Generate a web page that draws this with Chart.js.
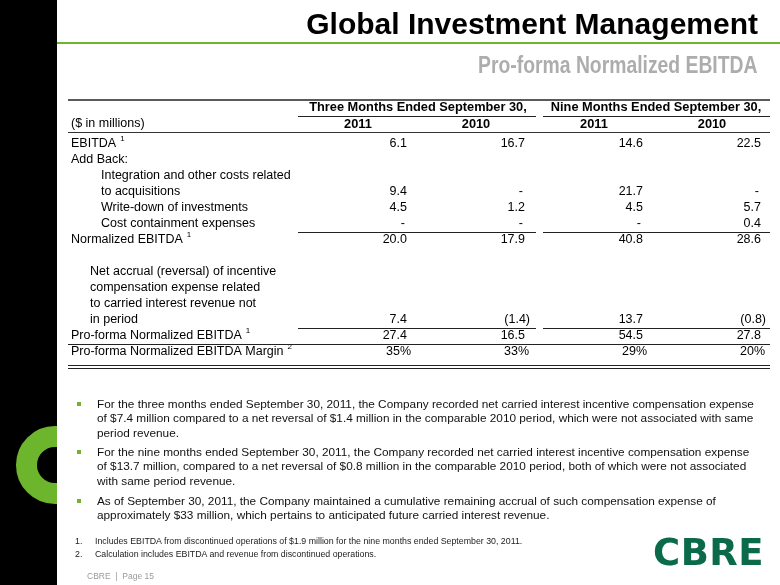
<!DOCTYPE html>
<html>
<head>
<meta charset="utf-8">
<title>Global Investment Management</title>
<script src="https://cdn.jsdelivr.net/npm/chart.js@4.4.1/dist/chart.umd.min.js"></script>
<style>
  body { margin: 0; width: 780px; height: 585px; position: relative; overflow: hidden; background: #fff;
         font-family: "Liberation Sans", Arial, sans-serif; color: #000; }
  #wrap { position: absolute; left: 0; top: 0; width: 780px; height: 585px; }
  #strip { position: absolute; left: 0; top: 0; width: 57px; height: 585px; background: #000; overflow: hidden; }
  #ring { position: absolute; left: 16px; top: 426px; width: 36px; height: 36px; border: 21px solid #6cb52d; border-radius: 50%; }
  #rule { position: absolute; left: 57px; right: 0; top: 42px; height: 2px; background: #6cb52d; }
  #title { position: absolute; right: 22px; top: 9px; font-weight: bold; font-size: 30px; line-height: 30px; white-space: nowrap; }
  #subtitle { position: absolute; right: 23px; top: 53px; font-weight: bold; font-size: 23.5px; line-height: 24px; color: #adadad;
              white-space: nowrap; transform: scaleX(0.823); transform-origin: right center; }
  .bullet { position: absolute; left: 97px; font-size: 11.8px; line-height: 14.3px; white-space: nowrap; color: #111; }
  .sq { position: absolute; left: 77px; width: 4px; height: 4px; background: #6cb52d; }
  .note { position: absolute; left: 75px; font-size: 8.8px; line-height: 13px; white-space: nowrap; color: #222; }
  .note span { position: absolute; left: 20px; }
  #footer { position: absolute; left: 87px; top: 571px; font-size: 8.5px; line-height: 11px; color: #9a9a9a; white-space: nowrap; }
  #logo { position: absolute; left: 653px; top: 534px; font-family: "DejaVu Sans", sans-serif; font-weight: bold; font-size: 37px;
          line-height: 37px; letter-spacing: 0.5px; color: #0b6a4a; }
</style>
</head>
<body>
<div id="wrap"><canvas id="tableChart"></canvas></div>
<div id="strip"><div id="ring"></div></div>
<div id="rule"></div>
<div id="title">Global Investment Management</div>
<div id="subtitle">Pro-forma Normalized EBITDA</div>

<div class="sq" style="top:402px"></div>
<div class="bullet" style="top:397px">For the three months ended September 30, 2011, the Company recorded net carried interest incentive compensation expense<br>of $7.4 million compared to a net reversal of $1.4 million in the comparable 2010 period, which were not associated with same<br>period revenue.</div>
<div class="sq" style="top:450px"></div>
<div class="bullet" style="top:445px">For the nine months ended September 30, 2011, the Company recorded net carried interest incentive compensation expense<br>of $13.7 million, compared to a net reversal of $0.8 million in the comparable 2010 period, both of which were not associated<br>with same period revenue.</div>
<div class="sq" style="top:499px"></div>
<div class="bullet" style="top:494px">As of September 30, 2011, the Company maintained a cumulative remaining accrual of such compensation expense of<br>approximately $33 million, which pertains to anticipated future carried interest revenue.</div>

<div class="note" style="top:535px">1.<span>Includes EBITDA from discontinued operations of $1.9 million for the nine months ended September 30, 2011.</span></div>
<div class="note" style="top:548px">2.<span>Calculation includes EBITDA and revenue from discontinued operations.</span></div>
<div id="footer">CBRE&nbsp;&nbsp;|&nbsp;&nbsp;Page 15</div>
<div id="logo">CBRE</div>

<script>
// Table data
const columnGroups = ['Three Months Ended September 30,', 'Nine Months Ended September 30,'];
const columnYears = ['2011', '2010', '2011', '2010'];
const unitsLabel = '($ in millions)';
const rowLabels = [
  ['EBITDA'],
  ['Add Back:'],
  ['Integration and other costs related', 'to acquisitions'],
  ['Write-down of investments'],
  ['Cost containment expenses'],
  ['Normalized EBITDA'],
  ['', 'Net accrual (reversal) of incentive', 'compensation expense related', 'to carried interest revenue not', 'in period'],
  ['Pro-forma Normalized EBITDA'],
  ['Pro-forma Normalized EBITDA Margin']
];
const rowNotes = ['1', '', '', '', '', '1', '', '1', '2'];
const q3_2011 = [6.1, null, 9.4, 4.5, 0, 20.0, 7.4, 27.4, 35];
const q3_2010 = [16.7, null, 0, 1.2, 0, 17.9, -1.4, 16.5, 33];
const nine_2011 = [14.6, null, 21.7, 4.5, 0, 40.8, 13.7, 54.5, 29];
const nine_2010 = [22.5, null, 0, 5.7, 0.4, 28.6, -0.8, 27.8, 20];
const percentRow = 8;

const columns = [q3_2011, q3_2010, nine_2011, nine_2010];
const columnKeys = ['q3_2011', 'q3_2010', 'nine_2011', 'nine_2010'];

// every printed line of the label column is one category on the y axis
const lineKeys = [];
const rowLastLine = [];
rowLabels.forEach((lines, r) => {
  lines.forEach((_, l) => lineKeys.push(r + ':' + l));
  rowLastLine.push(r + ':' + (lines.length - 1));
});

const indents = { 2: 30, 3: 30, 4: 30, 6: 19 };
const FONT = '"Liberation Sans", Arial, sans-serif';

function fmt(v, r) {
  if (r === percentRow) return { t: v + '%', hang: 4 };
  if (v === 0) return { t: '-', hang: -2 };
  if (v < 0) return { t: '(' + Math.abs(v).toFixed(1) + ')', hang: 5 };
  return { t: v.toFixed(1), hang: 0 };
}

const tablePlugin = {
  id: 'tableText',
  afterDraw(chart) {
    const { ctx, scales: { x, y } } = chart;
    const left = 68, right = 770;
    const xs = columnKeys.map((_, i) => x.getPixelForValue(i));
    const y0 = y.getPixelForValue(0);
    const lineY = i => y.getPixelForValue(i);
    const g1 = [xs[0] - 60, xs[1] + 60], g2 = [xs[2] - 51, right];

    function hline(x1, x2, yy, w, color) {
      ctx.beginPath();
      ctx.lineWidth = w;
      ctx.strokeStyle = color;
      ctx.moveTo(x1, yy);
      ctx.lineTo(x2, yy);
      ctx.stroke();
    }

    ctx.save();
    ctx.fillStyle = '#000';
    ctx.textBaseline = 'middle';

    // header
    hline(left, right, y0 - 44, 2, '#5a5a5a');
    ctx.font = 'bold 12.8px ' + FONT;
    ctx.textAlign = 'center';
    ctx.fillText(columnGroups[0], (xs[0] + xs[1]) / 2 + 1, y0 - 37);
    ctx.fillText(columnGroups[1], (xs[2] + xs[3]) / 2 + 3, y0 - 37);
    hline(g1[0], g1[1], y0 - 27.5, 1, '#222');
    hline(g2[0], g2[1], y0 - 27.5, 1, '#222');
    columnYears.forEach((yr, i) => ctx.fillText(yr, xs[i], y0 - 20));
    ctx.font = '12.5px ' + FONT;
    ctx.textAlign = 'left';
    ctx.fillText(unitsLabel, 71, y0 - 20);
    hline(left, right, y0 - 11.5, 1.2, '#333');

    // label column
    rowLabels.forEach((lines, r) => {
      lines.forEach((txt, l) => {
        const yy = lineY(lineKeys.indexOf(r + ':' + l));
        const xx = 71 + (indents[r] || 0);
        ctx.font = '12.5px ' + FONT;
        ctx.fillText(txt, xx, yy);
        if (l === lines.length - 1 && rowNotes[r]) {
          const w = ctx.measureText(txt).width;
          ctx.font = '8px ' + FONT;
          ctx.fillText(rowNotes[r], xx + w + 4, yy - 5);
        }
      });
    });

    // value cells, placed by the scatter points
    ctx.font = '12.5px ' + FONT;
    ctx.textAlign = 'right';
    chart.data.datasets.forEach((ds, i) => {
      const meta = chart.getDatasetMeta(i);
      meta.data.forEach((pt, j) => {
        const raw = ds.data[j];
        const f = fmt(raw.v, raw.r);
        ctx.fillText(f.t, pt.x + 49 + f.hang, pt.y);
      });
    });

    // rules inside the body
    const costLine = lineY(lineKeys.indexOf(rowLastLine[4]));
    const periodLine = lineY(lineKeys.indexOf(rowLastLine[6]));
    const proLine = lineY(lineKeys.indexOf(rowLastLine[7]));
    const marginLine = lineY(lineKeys.indexOf(rowLastLine[8]));
    [costLine, periodLine].forEach(yy => {
      hline(g1[0], g1[1], Math.round(yy + 8) + 0.5, 1, '#222');
      hline(g2[0], g2[1], Math.round(yy + 8) + 0.5, 1, '#222');
    });
    hline(left, right, Math.round(proLine + 8) + 0.5, 1, '#222');
    hline(left, right, Math.round(marginLine + 13) + 0.5, 1.2, '#222');
    hline(left, right, Math.round(marginLine + 16) + 0.5, 1.2, '#222');
    ctx.restore();
  }
};

const datasets = columns.map((vals, c) => ({
  label: columnKeys[c],
  data: vals.map((v, r) => ({ x: columnKeys[c], y: rowLastLine[r], v: v, r: r }))
            .filter(p => p.v !== null),
  pointRadius: 0,
  showLine: false
}));

new Chart(document.getElementById('tableChart').getContext('2d'), {
  type: 'scatter',
  data: { datasets: datasets },
  options: {
    responsive: true,
    maintainAspectRatio: false,
    animation: false,
    events: [],
    layout: { padding: { left: 299, right: 9, top: 144, bottom: 233 } },
    plugins: {
      legend: { display: false },
      tooltip: { enabled: false }
    },
    scales: {
      x: { type: 'category', labels: columnKeys, offset: true, display: false },
      y: { type: 'category', labels: lineKeys, offset: false, display: false }
    }
  },
  plugins: [tablePlugin]
});
</script>
</body>
</html>
